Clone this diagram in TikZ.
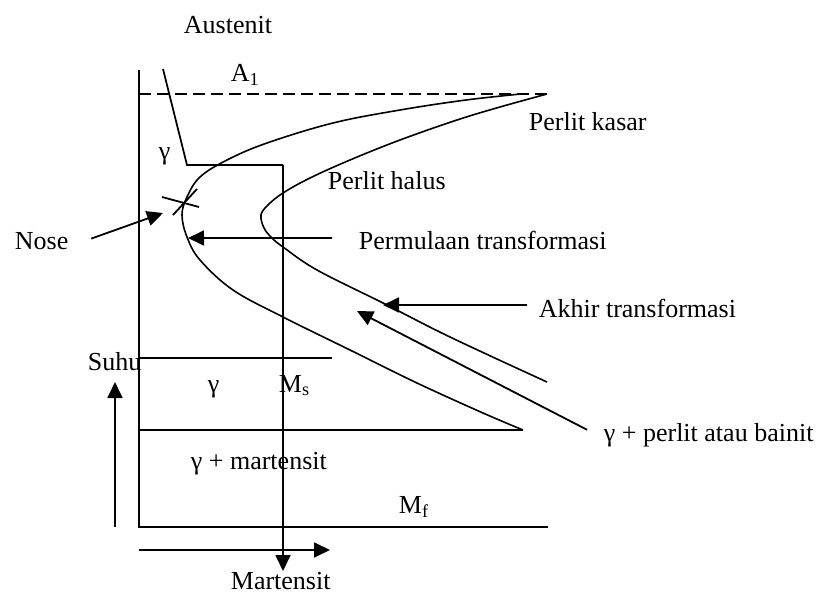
\documentclass[tikz,border=0pt]{standalone}
\usepackage{fontspec}
\setmainfont{Liberation Serif}
\usetikzlibrary{arrows.meta}

\begin{document}
\begin{tikzpicture}[
  x=0.5pt, y=-0.5pt,
  line width=0.9pt,
  lbl/.style={anchor=base west, inner sep=0pt, font=\fontsize{13}{15}\selectfont},
  kurva/.style={line width=0.8pt},
  >={Triangle[length=8pt, width=7.5pt]}
]
\useasboundingbox (0,0) rectangle (821,594);

\coordinate (atas) at (139,70);
\coordinate (asal) at (139,527);
\coordinate (ujung) at (548,527);
\coordinate (nosept) at (163,213);
\coordinate (mulai) at (188,238);
\coordinate (akhirpt) at (383,305);
\coordinate (bainpt) at (357,311);

\node[lbl] (aus) at (183,33) {Austenit};
\node[lbl] (aone) at (230,82) {A\textsubscript{1}};
\node[lbl] (gtop) at (158,159) {γ};
\node[lbl] (kasar) at (528,130) {Perlit kasar};
\node[lbl] (halus) at (327,189) {Perlit halus};
\node[lbl] (nose) at (14,249) {Nose};
\node[lbl] (perm) at (358,249) {Permulaan transformasi};
\node[lbl] (akhir) at (538,317) {Akhir transformasi};
\node[lbl] (gpb) at (603,441) {γ + perlit atau bainit};
\node[lbl] (suhu) at (87,370) {Suhu};
\node[lbl] (gmid) at (207,392) {γ};
\node[lbl] (ms) at (278,392) {M\textsubscript{s}};
\node[lbl] (gmart) at (190,469) {γ + martensit};
\node[lbl] (mf) at (398,513) {M\textsubscript{f}};
\node[lbl] (mart) at (230,589) {Martensit};

\draw (atas) -- (asal) -- (ujung);
\draw[dash pattern=on 6pt off 3pt] (139,94) -- (547,94);
\draw (163,69) -- (187,165) -- (283,165);
\draw[->] (283,165) -- (283,571);
\draw (139,358) -- (332,358);
\draw (139,430) -- (523,430);
\draw[->] (115,527) -- (115,382);
\draw[->] (139,550) -- (330,550);

\draw (162,197) -- (199,207);
\draw (173,215) -- (197,189);

\draw[kurva] plot[smooth, tension=0.6] coordinates {(521,94) (466,100) (400,110) (333,123) (267,143) (227,160) (200,177) (187,197) (182,215) (187,237) (200,260) (233,290) (283,317) (350,350) (417,383) (483,413) (523,430)};
\draw[kurva] plot[smooth, tension=0.6] coordinates {(547,94) (500,107) (457,120) (400,140) (350,160) (310,178) (283,193) (268,205) (261,215) (264,228) (272,238) (283,247) (317,270) (383,303) (450,337) (547,382)};

\draw[->] ([xshift=11pt,yshift=1pt]nose.east) -- (nosept);
\draw[->] ([xshift=-13pt,yshift=1pt]perm.west) -- (mulai);
\draw[->] ([xshift=-5.5pt,yshift=1.5pt]akhir.west) -- (akhirpt);
\draw[->] ([xshift=-8pt,yshift=2.5pt]gpb.west) -- (bainpt);

\end{tikzpicture}
\end{document}
